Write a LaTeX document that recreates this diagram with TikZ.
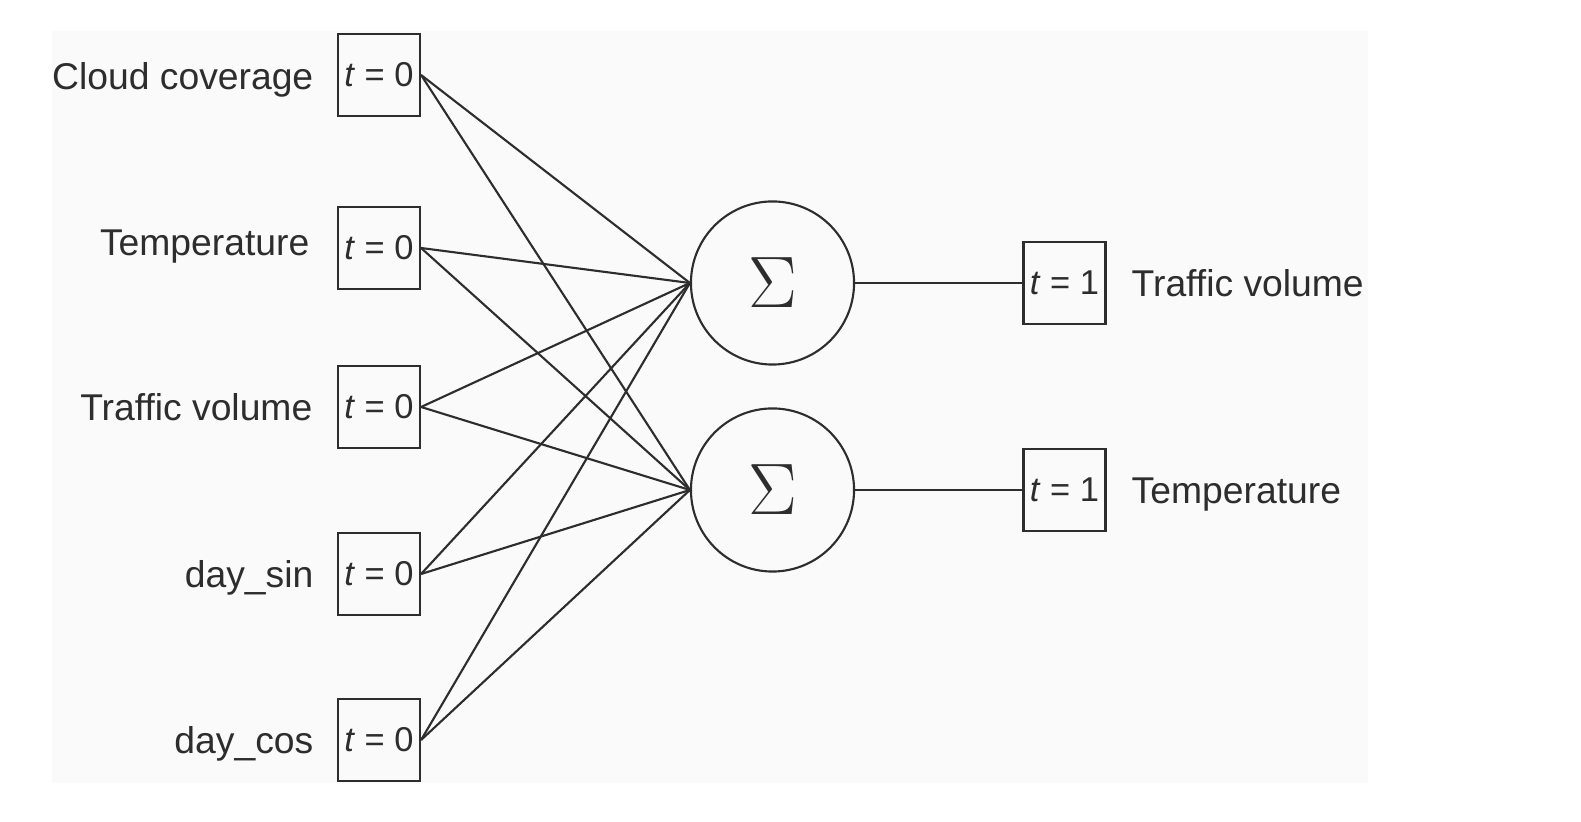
\documentclass[tikz,border=0pt]{standalone}
\usepackage[no-math]{fontspec}
\setmainfont{Liberation Sans}
\usetikzlibrary{positioning}
\definecolor{inkgray}{RGB}{45,45,45}
\definecolor{panelgray}{RGB}{250,250,250}
\tikzset{%
    time_box/.style={%
        rectangle, draw=inkgray, line width=0.6pt, minimum width=0.82cm, minimum height=0.82cm, inner sep=0pt, text=inkgray, font=\fontsize{9.8}{12}\selectfont
    },
    sum_node/.style={%
        circle, draw=inkgray, line width=0.6pt, minimum size=1.63cm, inner sep=0pt, text=inkgray
    },
    feat_label/.style={%
        text=inkgray, font=\fontsize{10.6}{12}\selectfont, inner sep=0pt
    },
    link/.style={%
        draw=inkgray, line width=0.6pt
    },
}

\begin{document}
\begin{tikzpicture}[x=0.01cm, y=-0.01cm]
      \useasboundingbox (0,0) rectangle (1581,822);
      \fill[panelgray] (52,31) rectangle (1368,783);
      % inputs at t = 0
      \node[time_box] (in_cloud) at (379,75) {\textit{t} = 0};
      \node[time_box] (in_temp) at (379,248) {\textit{t} = 0};
      \node[time_box] (in_traffic) at (379,407) {\textit{t} = 0};
      \node[time_box] (in_sin) at (379,574) {\textit{t} = 0};
      \node[time_box] (in_cos) at (379,740) {\textit{t} = 0};
      \node[feat_label, anchor=base east] (lbl_cloud) at (314,90) {Cloud coverage};
      \node[feat_label, anchor=base east] (lbl_temp) at (310,256) {Temperature};
      \node[feat_label, anchor=base east] (lbl_traffic) at (313,421) {Traffic volume};
      \node[feat_label, anchor=base east] (lbl_sin) at (314,588) {day\_sin};
      \node[feat_label, anchor=base east] (lbl_cos) at (314,754) {day\_cos};
      % sums
      \node[sum_node] (sum_traffic) at (772.5,283) {\fontsize{21}{21}\selectfont$\Sigma$};
      \node[sum_node] (sum_temp) at (772.5,490) {\fontsize{21}{21}\selectfont$\Sigma$};
      % outputs at t = 1
      \node[time_box] (out_traffic) at (1064.5,283) {\textit{t} = 1};
      \node[time_box] (out_temp) at (1064.5,490) {\textit{t} = 1};
      \node[feat_label, anchor=base west] (lbl_out_traffic) at (1131,297) {Traffic volume};
      \node[feat_label, anchor=base west] (lbl_out_temp) at (1131,504) {Temperature};
      \draw[link] (in_cloud.east) -- (sum_traffic.west);
      \draw[link] (in_cloud.east) -- (sum_temp.west);
      \draw[link] (in_temp.east) -- (sum_traffic.west);
      \draw[link] (in_temp.east) -- (sum_temp.west);
      \draw[link] (in_traffic.east) -- (sum_traffic.west);
      \draw[link] (in_traffic.east) -- (sum_temp.west);
      \draw[link] (in_sin.east) -- (sum_traffic.west);
      \draw[link] (in_sin.east) -- (sum_temp.west);
      \draw[link] (in_cos.east) -- (sum_traffic.west);
      \draw[link] (in_cos.east) -- (sum_temp.west);
      \draw[link] (sum_traffic.east) -- (out_traffic.west);
      \draw[link] (sum_temp.east) -- (out_temp.west);
\end{tikzpicture}
\end{document}
